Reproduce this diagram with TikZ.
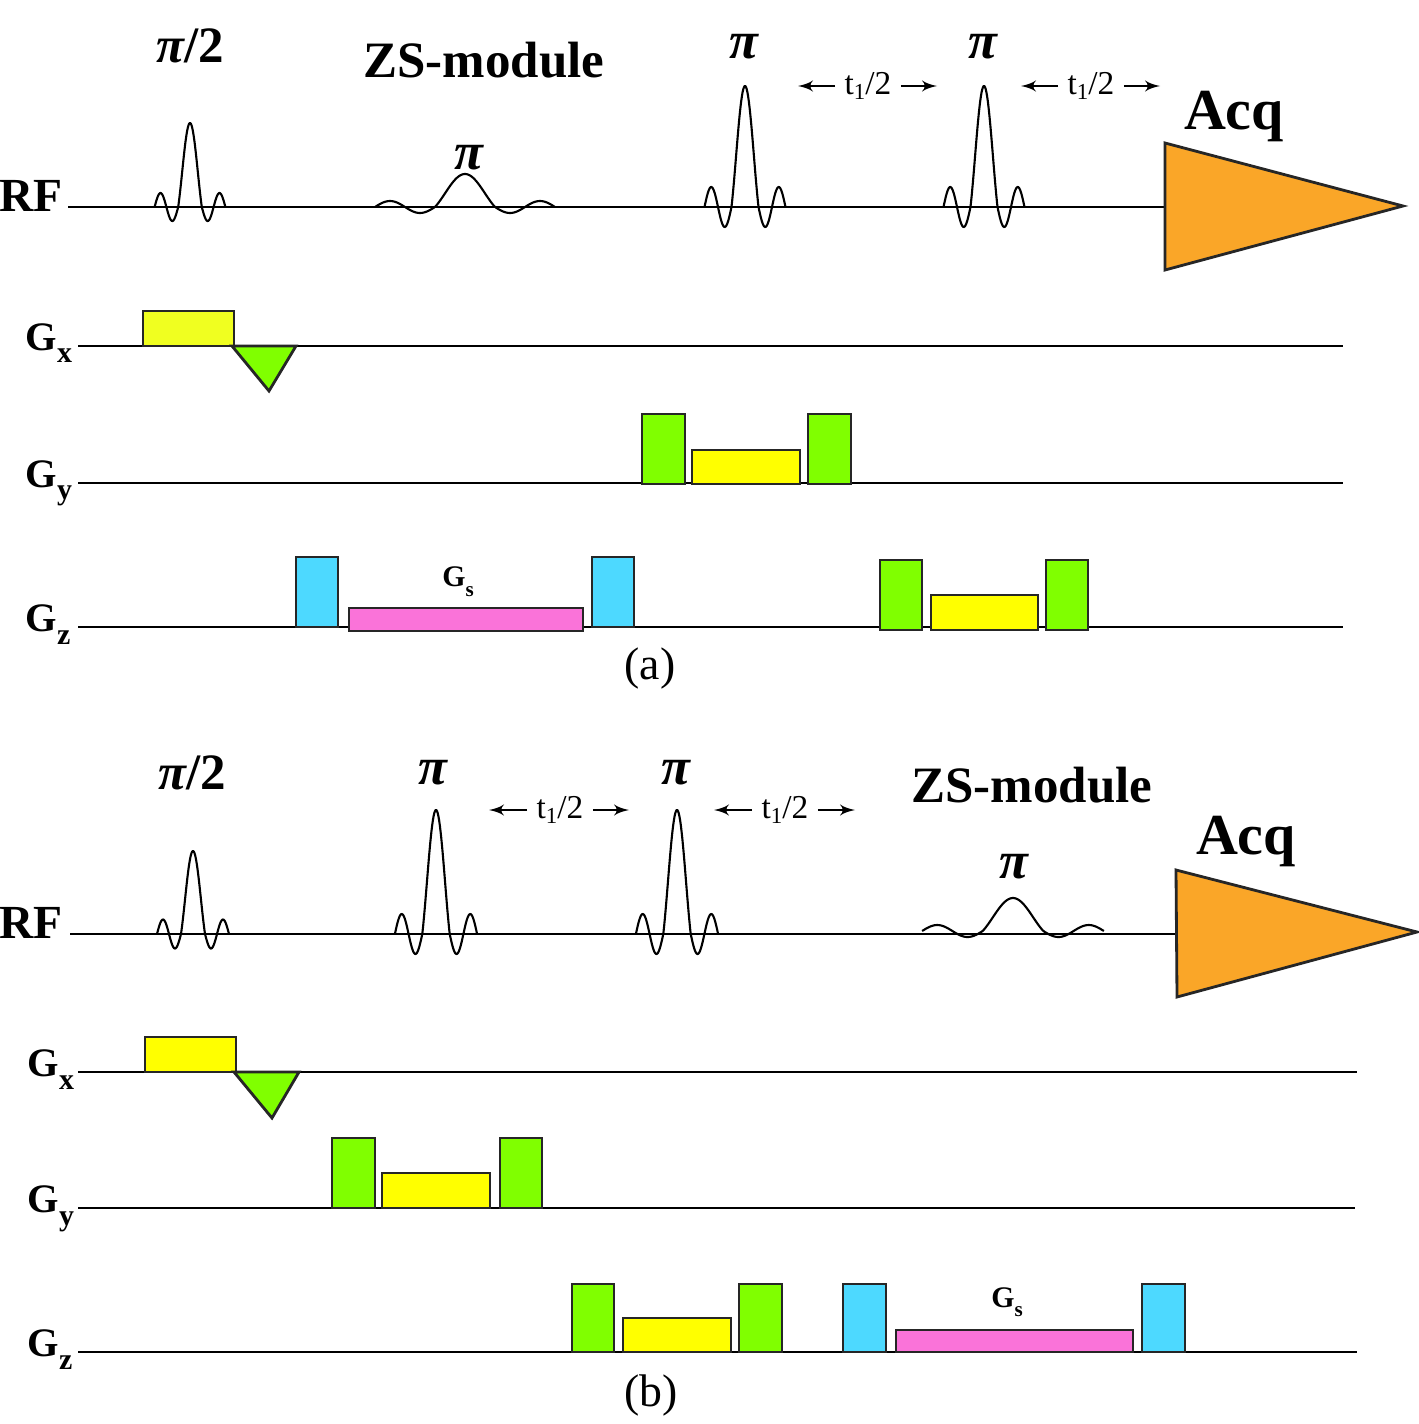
\documentclass[tikz,border=0pt]{standalone}
\usepackage{fontspec}
\setmainfont{Liberation Serif}
\usepackage{tikz}
\usetikzlibrary{arrows}
\usetikzlibrary{positioning}
\definecolor{gylw}{RGB}{240,255,32}
\definecolor{ylw}{RGB}{255,255,0}
\definecolor{grn}{RGB}{128,255,0}
\definecolor{cyn}{RGB}{77,217,255}
\definecolor{pnk}{RGB}{250,115,217}
\definecolor{acqc}{RGB}{250,166,40}
\tikzset{baseln/.style = {line width=0.6pt}}
\tikzset{grad/.style = {draw=black!85, line width=0.8pt}}
\tikzset{chan/.style = {font=\fontsize{13.5}{13.5}\selectfont\bfseries, inner sep=0pt}}
\tikzset{gchan/.style = {font=\fontsize{11.5}{11.5}\selectfont\bfseries, inner sep=0pt}}
\tikzset{big/.style = {font=\fontsize{14.5}{15}\selectfont\bfseries, inner sep=0pt}}
\tikzset{acqlbl/.style = {font=\fontsize{16.5}{16.5}\selectfont\bfseries, inner sep=0pt}}
\tikzset{pilbl/.style = {font=\fontsize{14.5}{14.5}\selectfont\bfseries, inner sep=0pt}}
\tikzset{pionly/.style = {font=\fontsize{15}{15}\selectfont\bfseries\itshape, inner sep=0pt}}
\tikzset{tlbl/.style = {font=\fontsize{9.5}{9.5}\selectfont, inner sep=2.5pt}}
\tikzset{tarrow/.style = {-latex', line width=0.5pt}}
\tikzset{panel/.style = {font=\fontsize{13}{13}\selectfont, inner sep=0pt}}
\newcommand\gsub[2][4pt]{G\raisebox{-0.7ex}{\fontsize{#1}{#1}\selectfont #2}}
% sinc-like rf pulse: centre, baseline, lobe width, main height, side height
\newcommand\rfpulse[5]{%
  \draw[baseln] plot[domain=-3:3, samples=120]
    ({#1+#3*\x}, {#2-((abs(\x)<1) ? (#4*sin(180*\x)/(pi*\x)) : (#5*sin(180*abs(\x))))});}

\begin{document}
\begin{tikzpicture}[x=0.01cm, y=-0.01cm]
  \useasboundingbox (0,0) rectangle (1419,1424);

  % (a)
  \node[chan, anchor=base east] (rfa) at (63,211) {RF};
  \foreach \g/\y in {x/346, y/483, z/627} {
    \node[gchan, anchor=base west] (g\g a) at (25,\y+4) {\gsub[8.5pt]{\g}};
    \draw[baseln] (78,\y) -- (1343,\y);
  }
  \draw[baseln] (68,207) -- (1165,207);

  \rfpulse{190}{207}{11.8}{84}{14}
  \rfpulse{465}{207}{30}{33}{6}
  \foreach \cx in {745, 984} {
    \rfpulse{\cx}{207}{13.5}{121}{20}
  }

  \node[pilbl] (p2a) at (190,46) {{\itshape π}/2};
  \node[big] (zsa) at (484,60) {ZS-module};
  \node[pionly] (pza) at (469,158) {π};
  \node[pionly] (pa1) at (744,47) {π};
  \node[pionly] (pa2) at (983,47) {π};

  \draw[grad, fill=acqc] (1165,143) -- (1165,270) -- (1403,206) -- cycle;
  \node[acqlbl] (acqa) at (1234,117) {Acq};

  \draw[grad, fill=gylw] (143,311) rectangle (234,346);
  \draw[grad, fill=grn] (232,346) -- (296,346) -- (269,391) -- cycle;

  \draw[grad, fill=grn] (642,414) rectangle (685,484);
  \draw[grad, fill=ylw] (692,450) rectangle (800,484);
  \draw[grad, fill=grn] (808,414) rectangle (851,484);

  \draw[grad, fill=cyn] (296,557) rectangle (338,627);
  \draw[grad, fill=pnk] (349,608) rectangle (583,631);
  \draw[grad, fill=cyn] (592,557) rectangle (634,627);
  \node[gchan, font=\fontsize{8.5}{8.5}\selectfont\bfseries] (gsa) at (458,582) {\gsub[6pt]{s}};
  \draw[grad, fill=grn] (880,560) rectangle (922,630);
  \draw[grad, fill=ylw] (931,595) rectangle (1038,630);
  \draw[grad, fill=grn] (1046,560) rectangle (1088,630);

  \node[panel] (capa) at (650,668) {(a)};

  % (b)
  \node[chan, anchor=base east] (rfb) at (63,938) {RF};
  \foreach \g/\y/\e in {x/1072/1357, y/1208/1355, z/1352/1357} {
    \node[gchan, anchor=base west] (g\g b) at (27,\y+4) {\gsub[8.5pt]{\g}};
    \draw[baseln] (78,\y) -- (\e,\y);
  }
  \draw[baseln] (70,934) -- (1176,934);

  \rfpulse{193}{934}{12}{83}{14.5}
  \foreach \cx in {436, 677} {
    \rfpulse{\cx}{934}{13.7}{124}{20}
  }
  \rfpulse{1013}{931}{30.3}{33}{6}

  \node[pilbl] (p2b) at (192,773) {{\itshape π}/2};
  \node[pionly] (pb1) at (433,773) {π};
  \node[pionly] (pb2) at (676,773) {π};
  \node[big] (zsb) at (1032,785) {ZS-module};
  \node[pionly] (pzb) at (1014,867) {π};

  \draw[grad, fill=acqc] (1176,870) -- (1177,997) -- (1417,932) -- cycle;
  \node[acqlbl] (acqb) at (1246,842) {Acq};

  \draw[grad, fill=ylw] (145,1037) rectangle (236,1072);
  \draw[grad, fill=grn] (234,1072) -- (299,1072) -- (272,1118) -- cycle;

  \draw[grad, fill=grn] (332,1138) rectangle (375,1208);
  \draw[grad, fill=ylw] (382,1173) rectangle (490,1208);
  \draw[grad, fill=grn] (500,1138) rectangle (542,1208);

  \draw[grad, fill=grn] (572,1284) rectangle (614,1352);
  \draw[grad, fill=ylw] (623,1318) rectangle (731,1352);
  \draw[grad, fill=grn] (739,1284) rectangle (782,1352);
  \draw[grad, fill=cyn] (843,1284) rectangle (886,1352);
  \draw[grad, fill=pnk] (896,1330) rectangle (1133,1352);
  \draw[grad, fill=cyn] (1142,1284) rectangle (1185,1352);
  \node[gchan, font=\fontsize{8.5}{8.5}\selectfont\bfseries] (gsb) at (1007,1302) {\gsub[6pt]{s}};

  \node[panel] (capb) at (651,1395) {(b)};

  % t1/2 delays
  \foreach \n/\cx/\y/\l/\r in {ta1/868/86/798/937, ta2/1091/86/1021/1160,
                                tb1/560/810/489/629, tb2/785/810/714/855} {
    \node[tlbl] (\n) at (\cx,\y) {t\raisebox{-0.3ex}{\fontsize{6.5}{6.5}\selectfont 1}/2};
    \coordinate (\n l) at (\l,\y);
    \coordinate (\n r) at (\r,\y);
    \draw[tarrow] (\n) -- (\n l);
    \draw[tarrow] (\n) -- (\n r);
  }
\end{tikzpicture}
\end{document}
